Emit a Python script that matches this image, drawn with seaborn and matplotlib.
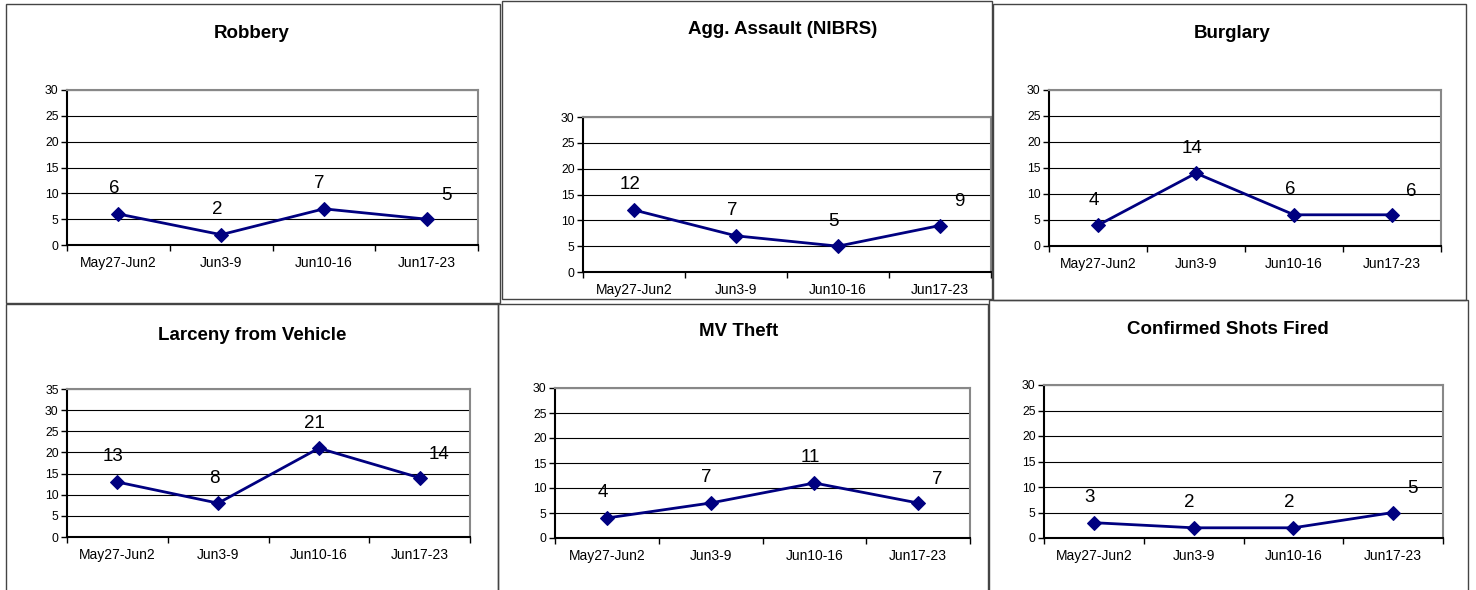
import matplotlib
matplotlib.use("Agg")
import matplotlib.pyplot as plt
import seaborn as sns
import pandas as pd
from matplotlib.patches import Rectangle

sns.set_theme(style="white")
plt.rcParams['font.family'] = ['Liberation Sans', 'DejaVu Sans']

weeks = ["May27-Jun2", "Jun3-9", "Jun10-16", "Jun17-23"]
titles = ["Robbery", "Agg. Assault (NIBRS)", "Burglary",
          "Larceny from Vehicle", "MV Theft", "Confirmed Shots Fired"]
robbery = [6, 2, 7, 5]
agg_assault = [12, 7, 5, 9]
burglary = [4, 14, 6, 6]
larceny_vehicle = [13, 8, 21, 14]
mv_theft = [4, 7, 11, 7]
shots_fired = [3, 2, 2, 5]
series = [robbery, agg_assault, burglary, larceny_vehicle, mv_theft, shots_fired]
ymax = [30, 30, 30, 35, 30, 30]

W, H = 1476, 590
fig = plt.figure(figsize=(W / 100, H / 100), dpi=100)

# pixel layout: (box x0, y0, x1, y1), (axes x0, y0, x1, y1), title (x, y)
boxes = [(6, 4, 500, 303), (502, 1, 992, 299), (993, 4, 1466, 300),
         (6, 304, 498, 592), (498, 304, 988, 592), (989, 300, 1468, 592)]
axes_px = [(67, 90, 478, 245), (583, 117, 991, 272), (1049, 90, 1441, 246),
           (67, 389, 470, 537), (555, 388, 970, 538), (1044, 385, 1443, 538)]
title_px = [(252, 34), (783, 30), (1232, 34), (252, 335), (739, 331), (1228, 330)]

for (bx0, by0, bx1, by1) in boxes:
    fig.patches.append(Rectangle((bx0 / W, 1 - by1 / H), (bx1 - bx0) / W, (by1 - by0) / H,
                                 transform=fig.transFigure, fill=False,
                                 edgecolor="#444444", linewidth=1.0))

for i in range(6):
    x0, y0, x1, y1 = axes_px[i]
    ax = fig.add_axes([x0 / W, 1 - y1 / H, (x1 - x0) / W, (y1 - y0) / H])
    df = pd.DataFrame({"week": weeks, "count": series[i]})
    df["pos"] = range(len(weeks))
    sns.lineplot(data=df, x="pos", y="count", ax=ax, color="#000080",
                 marker="D", markersize=7.5, markeredgecolor="#000080",
                 linewidth=2.0)
    ax.set_xlim(-0.5, len(weeks) - 0.5)
    ax.set_ylim(0, ymax[i])
    ax.set_yticks(range(0, ymax[i] + 1, 5))
    ax.set_xticks([p - 0.5 for p in range(len(weeks) + 1)], minor=False)
    ax.set_xticklabels([])
    ax.set_xticks(range(len(weeks)), minor=True)
    ax.set_xticklabels(weeks, minor=True)
    ax.tick_params(axis="x", which="major", length=4, width=1, color="black",
                   bottom=True, direction="out")
    ax.tick_params(axis="x", which="minor", length=0, labelsize=10, pad=8)
    ax.tick_params(axis="y", length=4, width=1, color="black", left=True,
                   direction="out", labelsize=8.8, pad=2)
    for t in ax.get_xticklabels(minor=True):
        t.set_color("black")
    for t in ax.get_yticklabels():
        t.set_color("black")
    ax.grid(axis="y", color="black", linewidth=0.8)
    ax.set_axisbelow(True)
    ax.spines["left"].set_color("black")
    ax.spines["bottom"].set_color("black")
    ax.spines["top"].set_color("#888888")
    ax.spines["right"].set_color("#888888")
    for s in ax.spines.values():
        s.set_linewidth(1.5)
        s.set_visible(True)
    ax.set_xlabel("")
    ax.set_ylabel("")
    n = len(df)
    for j, (p, v) in enumerate(zip(df["pos"], df["count"])):
        if j == n - 1:
            off = (14, 11)
        else:
            off = (-3, 12)
        ax.annotate(str(v), (p, v), xytext=off, textcoords="offset points",
                    ha="center", va="bottom", fontsize=13.5, color="black")
    tx, ty = title_px[i]
    fig.text(tx / W, 1 - ty / H, titles[i], ha="center", va="center",
             fontsize=13.5, fontweight="bold", color="black")

fig.savefig("out.png", dpi=100, facecolor="white")
